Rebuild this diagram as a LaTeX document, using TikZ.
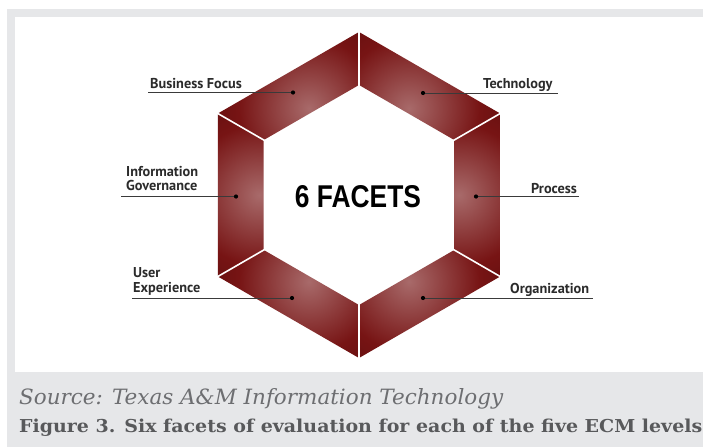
\documentclass[tikz,border=0pt]{standalone}
\usepackage{fontspec}
\setmainfont{DejaVu Serif}
\newfontfamily\lblfont{PT Sans}
\newfontfamily\hexfont{Liberation Sans}
\newfontfamily\capfont{DejaVu Serif}
\usetikzlibrary{calc}

\definecolor{framegray}{HTML}{E6E7E9}
\definecolor{srcgray}{HTML}{6D6E71}
\definecolor{figgray}{HTML}{58595B}
\definecolor{lbltext}{HTML}{2B2B2B}
\definecolor{leadgray}{HTML}{3A3A3A}
\definecolor{facetlight}{HTML}{A86A6A}
\definecolor{facetmid}{HTML}{771414}
\definecolor{facetdark}{HTML}{4A0909}

% light spot near the inner edge of each facet, fading to deep maroon
\pgfdeclareradialshading{facet}{\pgfpoint{0bp}{0bp}}{%
  color(0bp)=(facetlight); color(16bp)=(facetmid);
  color(34bp)=(facetdark); color(50bp)=(facetdark)}

\tikzset{
  lbl/.style={font=\lblfont\bfseries\fontsize{14.3}{14.5}\selectfont, text=lbltext,
              inner sep=0pt, align=left},
  leader/.style={draw=leadgray, line width=1pt},
  dot/.style={fill=black},
  separator/.style={draw=white, line width=1.6pt},
}

\begin{document}
\begin{tikzpicture}[x=1pt,y=-1pt]
\useasboundingbox (0,0) rectangle (703,447);

% frame and panel
\fill[framegray] (7,9) rectangle (703,447);
\fill[white] (15,17) rectangle (703,372);

% hexagonal ring of six facets
\begin{scope}[shift={(359,195)}]
  \coordinate (C) at (0,0);
  \foreach \a in {-150,-90,-30,30,90,150} {
    \begin{scope}
      \clip (\a:110) -- (\a:163) -- ({\a+60}:163) -- ({\a+60}:110) -- cycle;
      \shade[shading=facet] ({\a+30}:100) circle (110);
    \end{scope}
  }
  \foreach \a in {-150,-90,-30,30,90,150}
    \draw[separator] (\a:107) -- (\a:167);
\end{scope}

% centre title
\node[anchor=base, inner sep=0pt] (title) at (358,207)
  {\resizebox{126pt}{22pt}{\hexfont\bfseries 6 FACETS}};

% facet labels with leader lines (two-line labels sit on their last baseline)
\node[lbl, anchor=base west] (bf) at (150,88.7) {Business Focus};
\coordinate (bfend) at (148,92.5);
\coordinate (bfdot) at (293,92.5);

\node[lbl, anchor=base west] (tech) at (483,88.5) {Technology};
\coordinate (techdot) at (423,93);
\coordinate (techend) at (558,93);

\node[lbl, anchor=base west] (ig) at (126,190.5) {Information\\Governance};
\coordinate (igend) at (121,196.5);
\coordinate (igdot) at (236,196.5);

\node[lbl, anchor=base west] (proc) at (531,193) {Process};
\coordinate (procdot) at (476,196.5);
\coordinate (procend) at (579,196.5);

\node[lbl, anchor=base west] (ux) at (133,292) {User\\Experience};
\coordinate (uxend) at (132,298);
\coordinate (uxdot) at (292,298);

\node[lbl, anchor=base west] (org) at (510,293) {Organization};
\coordinate (orgdot) at (423,298);
\coordinate (orgend) at (593,298);

\foreach \s/\e in {bfend/bfdot, techdot/techend, igend/igdot,
                   procdot/procend, uxend/uxdot, orgdot/orgend}
  \draw[leader] (\s) -- (\e);
\foreach \d in {bfdot, techdot, igdot, procdot, uxdot, orgdot}
  \fill[dot] (\d) circle (2.1);

% caption
\node[anchor=base west, inner sep=0pt, text=srcgray] (src) at (19,404)
  {\resizebox{484pt}{16pt}{\capfont\itshape Source: Texas A\&M Information Technology}};
\node[anchor=base west, inner sep=0pt, text=figgray] (fig) at (19,432.5)
  {\resizebox{683pt}{13.5pt}{\capfont\bfseries Figure 3. Six facets of evaluation for each of the five ECM levels}};
\end{tikzpicture}
\end{document}
